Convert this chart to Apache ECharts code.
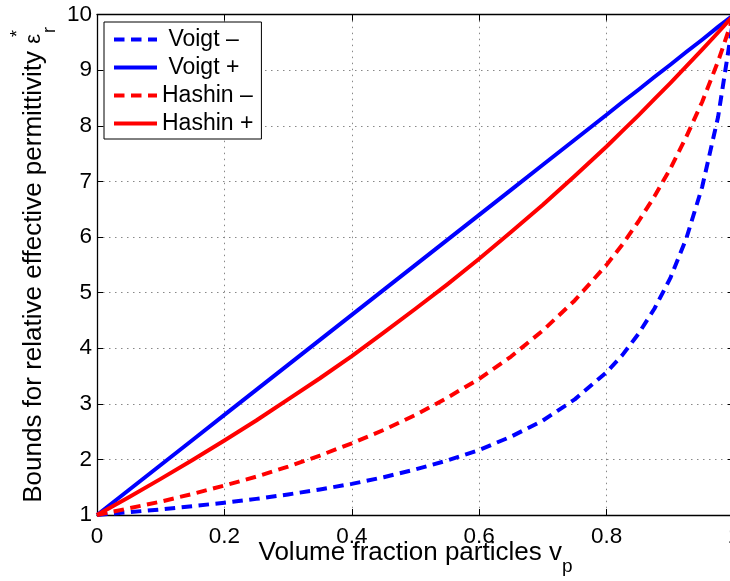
<!DOCTYPE html>
<html>
<head>
<meta charset="utf-8">
<title>Permittivity bounds</title>
<script src="https://cdn.jsdelivr.net/npm/echarts@6/dist/echarts.min.js"></script>
<style>
  html, body { margin: 0; padding: 0; background: #fff; }
  #chart { width: 730px; height: 581px; }
</style>
</head>
<body>
<div id="chart"></div>
<script>
// Volume fraction of particles (x values)
const volumeFraction = [0, 0.05, 0.1, 0.15, 0.2, 0.25, 0.3, 0.35, 0.4, 0.45, 0.5, 0.55,
  0.6, 0.65, 0.7, 0.75, 0.8, 0.825, 0.85, 0.875, 0.9, 0.925, 0.95, 0.975, 1];

// Lower Voigt (Wiener) bound
const voigtLower = [1, 1.05, 1.10, 1.16, 1.22, 1.29, 1.37, 1.46, 1.56, 1.68, 1.82, 1.98,
  2.17, 2.41, 2.70, 3.08, 3.57, 3.88, 4.26, 4.71, 5.26, 5.97, 6.90, 8.16, 10];

// Upper Voigt bound
const voigtUpper = [1, 1.45, 1.90, 2.35, 2.80, 3.25, 3.70, 4.15, 4.60, 5.05, 5.50, 5.95,
  6.40, 6.85, 7.30, 7.75, 8.20, 8.43, 8.65, 8.88, 9.10, 9.33, 9.55, 9.78, 10];

// Lower Hashin-Shtrikman bound
const hashinLower = [1, 1.12, 1.24, 1.38, 1.53, 1.69, 1.87, 2.07, 2.29, 2.53, 2.80, 3.11,
  3.45, 3.85, 4.32, 4.86, 5.50, 5.87, 6.28, 6.73, 7.23, 7.80, 8.43, 9.16, 10];

// Upper Hashin-Shtrikman bound
const hashinUpper = [1, 1.32, 1.65, 1.99, 2.34, 2.70, 3.08, 3.46, 3.86, 4.28, 4.71, 5.15,
  5.61, 6.09, 6.58, 7.10, 7.63, 7.91, 8.19, 8.48, 8.77, 9.07, 9.37, 9.68, 10];

const seriesNames = [' Voigt –', ' Voigt +', 'Hashin –', 'Hashin +'];
const seriesDashed = [true, false, true, false];
const xTickLabels = ['0', '0.2', '0.4', '0.6', '0.8', '1'];
const yTickLabels = ['1', '2', '3', '4', '5', '6', '7', '8', '9', '10'];

const FONT = '"Liberation Sans", Arial, Helvetica, sans-serif';
const BLUE = '#0000ff';
const RED = '#ff0000';
const DASH = [10.5, 6.5];
const LINE_W = 4;

function pairs(ys) {
  return volumeFraction.map((x, i) => [x, ys[i]]);
}

function lineSeries(name, ys, color, dashed) {
  return {
    name: name,
    type: 'line',
    data: pairs(ys),
    symbol: 'none',
    showSymbol: false,
    smooth: false,
    animation: false,
    color: color,
    lineStyle: { color: color, width: LINE_W, type: dashed ? DASH : 'solid', join: 'round' },
    z: 3
  };
}

const axisLineStyle = { color: '#000', width: 1.3 };
const tickStyle = { show: true, inside: true, length: 6, lineStyle: { color: '#000', width: 1 } };
const gridLineStyle = { show: true, lineStyle: { color: '#888', width: 1, type: [1.5, 4.5] } };

const chart = echarts.init(document.getElementById('chart'), null, { renderer: 'canvas' });

chart.setOption({
  backgroundColor: '#fff',
  animation: false,
  grid: {
    left: 97, right: -4, top: 14.7, bottom: 66,
    containLabel: false,
    outerBoundsMode: 'none'
  },
  legend: {
    // each key is a line sample only, drawn with the series' own width and dash
    data: seriesNames.map((name, i) => ({
      name: name,
      lineStyle: { width: LINE_W, type: seriesDashed[i] ? DASH : 'solid' }
    })),
    orient: 'vertical',
    left: 104,
    top: 22,
    align: 'left',
    itemWidth: 43,
    itemHeight: 14,
    itemGap: 5,
    padding: [6, 8, 4, 8],
    backgroundColor: '#fff',
    borderColor: '#000',
    borderWidth: 1,
    borderRadius: 0,
    lineStyle: { width: LINE_W },
    itemStyle: { opacity: 0, color: 'rgba(0,0,0,0)', borderWidth: 0 },
    textStyle: { fontFamily: FONT, fontSize: 23, color: '#000' }
  },
  xAxis: [
    {
      type: 'value',
      position: 'bottom',
      min: 0, max: 1, interval: 0.2,
      axisLine: { show: true, onZero: false, lineStyle: axisLineStyle },
      axisTick: tickStyle,
      axisLabel: {
        margin: 10, fontFamily: FONT, fontSize: 22.5, color: '#000',
        formatter: (v) => xTickLabels[Math.round(v / 0.2)]
      },
      splitLine: gridLineStyle,
      name: 'Volume fraction particles v{sub|p}',
      nameLocation: 'middle',
      nameGap: 15,
      nameMoveOverlap: false,
      nameTextStyle: {
        fontFamily: FONT, fontSize: 26, color: '#000', lineHeight: 46,
        rich: {
          sub: { fontFamily: FONT, fontSize: 19, color: '#000', lineHeight: 19, verticalAlign: 'bottom' }
        }
      }
    },
    {
      type: 'value',
      position: 'top',
      min: 0, max: 1, interval: 0.2,
      axisLine: { show: true, onZero: false, lineStyle: axisLineStyle },
      axisTick: tickStyle,
      axisLabel: { show: false },
      splitLine: { show: false }
    }
  ],
  yAxis: [
    {
      type: 'value',
      position: 'left',
      min: 1, max: 10, interval: 1,
      axisLine: { show: true, onZero: false, lineStyle: axisLineStyle },
      axisTick: tickStyle,
      axisLabel: {
        margin: 5, fontFamily: FONT, fontSize: 22.5, color: '#000',
        formatter: (v) => yTickLabels[Math.round(v) - 1]
      },
      splitLine: gridLineStyle,
      name: 'Bounds for relative effective permittivity {eps|ε}{sup|*}{sub|r}',
      nameLocation: 'middle',
      nameRotate: 90,
      nameGap: 38,
      nameMoveOverlap: false,
      nameTextStyle: {
        fontFamily: FONT, fontSize: 26, color: '#000', lineHeight: 50,
        rich: {
          eps: { fontFamily: FONT, fontSize: 22, color: '#000', lineHeight: 50 },
          sup: { fontFamily: FONT, fontSize: 18, color: '#000', lineHeight: 16, verticalAlign: 'top', width: 1 },
          sub: { fontFamily: FONT, fontSize: 18, color: '#000', lineHeight: 16, verticalAlign: 'bottom' }
        }
      }
    },
    {
      type: 'value',
      position: 'right',
      min: 1, max: 10, interval: 1,
      axisLine: { show: true, onZero: false, lineStyle: axisLineStyle },
      axisTick: tickStyle,
      axisLabel: { show: false },
      splitLine: { show: false }
    }
  ],
  series: [
    lineSeries(seriesNames[0], voigtLower, BLUE, seriesDashed[0]),
    lineSeries(seriesNames[1], voigtUpper, BLUE, seriesDashed[1]),
    lineSeries(seriesNames[2], hashinLower, RED, seriesDashed[2]),
    lineSeries(seriesNames[3], hashinUpper, RED, seriesDashed[3])
  ]
});
</script>
</body>
</html>
